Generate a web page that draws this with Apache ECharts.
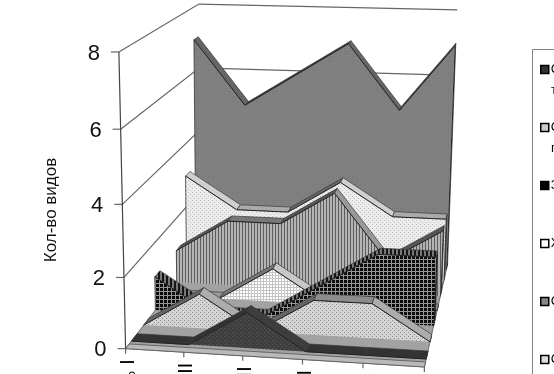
<!DOCTYPE html>
<html><head><meta charset="utf-8">
<style>html,body{margin:0;padding:0;background:#fff}#c{width:554px;height:374px}</style>
<script src="https://cdn.jsdelivr.net/npm/echarts@6/dist/echarts.min.js"></script>
</head><body><div id="c"></div>
<script>
const categories = ['I °','II °','III °','IV °','V °','VI °'];
const yTicks = [0,2,4,6,8];
const s1 = [0,0,1,0,0,0];
const s2 = [0,1,0,1,1,0];
const s3 = [1,0,0,1,2,2];
const s4 = [0,0,1,0,0,0];
const s5 = [1,2,2,3,1,2];
const s6 = [3,2,2,3,2,2];
const s7 = [7,5,6,7,5,7];
const seriesNames = ['С','С ','З','Х','С  ','С   ','Ряд 7'];
const secondLines = ['т','п'];
const yTitle = 'Кол-во видов';

// calibration of the 3-D box: [u, v, w, screenX, screenY]
const CAL = [[0,0,0,126,347],[0,.25,0,124,277],[0,.5,0,122,205],[0,.75,0,120,129],[0,1,0,118,53],
 [1,0,0,425,367],[.4,0,0,243,356],[.6,0,0,303,360],
 [0,0,1,200,252],[0,.75,1,200,67],[0,1,1,200,4],[1,0,1,447,263],[1,.75,1,456,75],[1,1,1,456,10]];
function solve(A,b){const n=b.length;const M=A.map((r,i)=>r.concat(b[i]));
 for(let i=0;i<n;i++){let p=i;for(let k=i+1;k<n;k++)if(Math.abs(M[k][i])>Math.abs(M[p][i]))p=k;
  [M[i],M[p]]=[M[p],M[i]];
  for(let k=0;k<n;k++){if(k===i)continue;const f=M[k][i]/M[i][i];for(let j=i;j<=n;j++)M[k][j]-=f*M[i][j];}}
 return M.map((r,i)=>r[n]/r[i]);}
const H=(function(){const rows=[],rhs=[];
 CAL.forEach(([u,v,w,x,y])=>{rows.push([1,u,v,w,0,0,0,0,-x*u,-x*v,-x*w]);rhs.push(x);
  rows.push([0,0,0,0,1,u,v,w,-y*u,-y*v,-y*w]);rhs.push(y);});
 const N=11,A=[],b=[];for(let i=0;i<N;i++){A.push([]);b.push(0);for(let j=0;j<N;j++){let s=0;rows.forEach(r=>s+=r[i]*r[j]);A[i].push(s);}
  rows.forEach((r,k)=>b[i]+=r[i]*rhs[k]);}
 return solve(A,b);})();
function P(u,v,w){const d=1+H[8]*u+H[9]*v+H[10]*w;
 return [(H[0]+H[1]*u+H[2]*v+H[3]*w)/d,(H[4]+H[5]*u+H[6]*v+H[7]*w)/d];}

function pat(w,h,bg,marks){const c=document.createElement('canvas');c.width=w;c.height=h;const g=c.getContext('2d');
 g.fillStyle=bg;g.fillRect(0,0,w,h);marks.forEach(m=>{g.fillStyle=m[4];g.fillRect(m[0],m[1],m[2],m[3]);});
 return {image:c,repeat:'repeat'};}
const hatch=pat(4,4,'#151515',[[0,0,2,4,'#777']]);
const styles=[
 {face:pat(4,4,'#3e3e3e',[[0,0,1,1,'#5a5a5a'],[2,2,1,1,'#5a5a5a']]),up:'#333',flat:'#333',down:'#3d3d3d',cap:'#222',leg:'#333'},
 {face:pat(4,4,'#d4d4d4',[[0,0,1,1,'#888'],[2,2,1,1,'#888']]),up:'#666',flat:'#8c8c8c',down:'#adadad',cap:'#555',leg:'#ccc'},
 {face:pat(4,4,'#0c0c0c',[[3,0,1,4,'#969696'],[0,3,4,1,'#969696']]),up:hatch,flat:hatch,down:hatch,cap:'#222',leg:'#000'},
 {face:pat(3,3,'#fff',[[2,0,1,3,'#c4c4c4'],[0,2,3,1,'#c4c4c4']]),up:'#777',flat:'#999',down:'#c8c8c8',cap:'#555',leg:'#fff'},
 {face:pat(3,1,'#b4b4b4',[[2,0,1,1,'#5c5c5c']]),up:'#555',flat:'#777',down:'#999',cap:'#444',leg:'#888'},
 {face:pat(4,4,'#ececec',[[0,0,1,1,'#bdbdbd'],[2,2,1,1,'#bdbdbd']]),up:'#666',flat:'#aaa',down:'#cfcfcf',cap:'#555',leg:'#ddd'},
 {face:pat(2,2,'#828282',[[0,0,1,1,'#777']]),up:'#3a3a3a',flat:'#555',down:'#666',cap:'#333',leg:'#808080'}
];
const allSeries=[s1,s2,s3,s4,s5,s6,s7];
const SLOT=1/7, DW=.065;
function depth(i){return (i+.45)*SLOT;}

function normalizer(params,api){const r=params.coordSys;
 return (cat,val)=>{const p=api.coord([cat,val]);return [(p[0]-r.x)/r.width,1-(p[1]-r.y)/r.height];};}

function ribbon(idx){return function(params,api){
 if(params.dataIndex!==0)return null;
 const n=normalizer(params,api),st=styles[idx],w0=depth(idx),w1=w0+DW,kids=[];
 const cnt=categories.length,pts=[];
 for(let i=0;i<cnt;i++){pts.push(n(i,api.value(1,i)));}
 const L=pts[cnt-1];
 kids.push({type:'polygon',shape:{points:[P(L[0],0,w0),P(L[0],L[1],w0),P(L[0],L[1],w1),P(L[0],0,w1)]},
  style:{fill:st.cap,stroke:'#222',lineWidth:.7}});
 for(let i=0;i<cnt-1;i++){const a=pts[i],b=pts[i+1];
  const f=b[1]>a[1]?st.up:(b[1]<a[1]?st.down:st.flat);
  kids.push({type:'polygon',shape:{points:[P(a[0],a[1],w0),P(b[0],b[1],w0),P(b[0],b[1],w1),P(a[0],a[1],w1)]},
   style:{fill:f,stroke:'#3a3a3a',lineWidth:.7}});}
 const face=[P(pts[0][0],0,w0)];pts.forEach(p=>face.push(P(p[0],p[1],w0)));face.push(P(L[0],0,w0));
 kids.push({type:'polygon',shape:{points:face},style:{fill:st.face,stroke:null}});
 const top=[];pts.forEach(p=>top.push(P(p[0],p[1],w0)));
 kids.push({type:'polyline',shape:{points:top},style:{fill:null,stroke:'#222',lineWidth:1}});
 kids.push({type:'polyline',shape:{points:[P(pts[0][0],0,w0),P(pts[0][0],pts[0][1],w0)]},style:{fill:null,stroke:'#333',lineWidth:.8}});
 return {type:'group',children:kids};
};}

function frame(params,api){
 if(params.dataIndex!==0)return null;
 const n=normalizer(params,api),kids=[];
 const ln=(pp,c,lw)=>kids.push({type:'polyline',shape:{points:pp},style:{fill:null,stroke:c||'#666',lineWidth:lw||1.2}});
 const ticks=yTicks.map(t=>n(0,t)[1]);
 ticks.forEach((v,k)=>{
  if(v>0){ln([P(0,v,0),P(0,v,1),P(1,v,1)]);}
  const a=P(0,v,0);
  ln([[a[0]-8,a[1]],a]);
  kids.push({type:'text',x:a[0]-19,y:a[1]+1.5,style:{text:String(yTicks[k]),fill:'#111',font:'22px "Liberation Sans"',align:'right',verticalAlign:'middle'}});
 });
 ln([P(0,0,0),P(0,1,0)],'#444');
 kids.push({type:'polygon',shape:{points:[P(0,0,0),P(1,0,0),P(1,0,1),P(0,0,1)]},style:{fill:'#a2a2a2',stroke:'#555',lineWidth:.8}});
 kids.push({type:'polygon',shape:{points:[P(0,0,0),P(1,0,0),P(1,0,.04),P(0,0,.04)]},style:{fill:'#b9b9b9',stroke:'#555',lineWidth:.8}});
 categories.forEach((c,i)=>{const u=n(i,0)[0],a=P(u,0,0);
  ln([a,[a[0],a[1]+5]],'#666');
  kids.push({type:'text',x:a[0],y:a[1]+10.5,rotation:-Math.PI/2,style:{text:c,fill:'#000',font:'20px "Liberation Sans"',align:'left',verticalAlign:'middle'}});
 });
 return {type:'group',children:kids};
}

const series=[{type:'custom',name:'frame',renderItem:frame,silent:true,data:categories.map((c,i)=>[i,0]),encode:{x:0,y:1}}];
for(let i=allSeries.length-1;i>=0;i--){
 series.push({type:'custom',name:seriesNames[i],renderItem:ribbon(i),silent:true,
  data:allSeries[i].map((v,k)=>[k,v]),encode:{x:0,y:1}});
}
const legendData=seriesNames.slice(0,6).map((nm,i)=>({name:nm,icon:'rect',
 itemStyle:{color:styles[i].leg,borderColor:'#000',borderWidth:1.5}}));
const chart=echarts.init(document.getElementById('c'),null,{renderer:'canvas'});
chart.setOption({animation:false,backgroundColor:'#fff',
 grid:{left:126,right:100,top:73,bottom:27,containLabel:false},
 xAxis:{type:'category',data:categories,boundaryGap:false,show:false},
 yAxis:{type:'value',min:0,max:8,interval:2,axisLine:{show:false},axisTick:{show:false},axisLabel:{show:false},splitLine:{show:false},
  name:yTitle,nameLocation:'middle',nameRotate:90,nameGap:66,nameTextStyle:{fontFamily:'Liberation Sans',fontSize:17,color:'#111'}},
 legend:{orient:'vertical',left:532,top:49,itemWidth:8,itemHeight:8,itemGap:45,padding:[14,0,0,8],
  selectedMode:false,data:legendData,
  textStyle:{fontFamily:'Liberation Sans',fontSize:13,lineHeight:13,color:'#000',padding:[0,0,0,-3]}},
 graphic:[{type:'rect',shape:{x:532.5,y:49.5,width:90,height:400},style:{fill:null,stroke:'#808080',lineWidth:1},silent:true}]
  .concat(secondLines.map((t,i)=>({type:'text',left:551,top:84+i*58,style:{text:t,font:'13px "Liberation Sans"',fill:'#000'}}))),
 series:series});
</script></body></html>
